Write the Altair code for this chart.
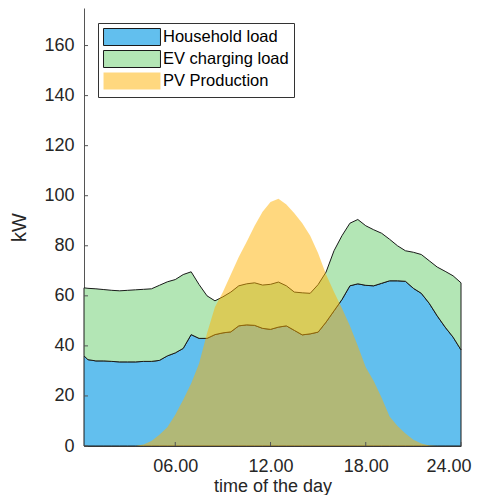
import altair as alt
import pandas as pd

hours = [0.25, 0.5, 1, 1.5, 2, 2.5, 3, 3.5, 4, 4.5, 5, 5.5, 6, 6.5, 7, 7.5, 8, 8.5,
         9, 9.5, 10, 10.5, 11, 11.5, 12, 12.5, 13, 13.5, 14, 14.5, 15, 15.5, 16, 16.5,
         17, 17.5, 18, 18.5, 19, 19.5, 20, 20.5, 21, 21.5, 22, 22.5, 23, 23.5, 24]

household = [36, 34.5, 34, 34, 33.8, 33.6, 33.6, 33.6, 33.8, 33.8, 34.2, 36, 37.2, 39,
             44.5, 43, 43, 44.5, 45.2, 45.6, 48, 48.4, 48.2, 47, 46.6, 47.5, 48, 46.2,
             44.4, 44.8, 45.5, 49.5, 54, 58.5, 64, 64.8, 64.2, 64, 65, 66, 66, 65.8,
             63, 61, 57, 52, 47.5, 43.5, 38.4]

ev_charging = [27.2, 28.5, 28.8, 28.5, 28.4, 28.4, 28.6, 28.8, 28.8, 29.0, 30.0, 29.6,
               29.3, 29.5, 25.1, 21.5, 17.0, 13.5, 14.4, 15.9, 16.0, 16.4, 17.0, 17.3,
               18.0, 18.0, 16.0, 15.3, 16.8, 16.2, 19.0, 20.0, 24.0, 25.5, 25.0, 25.7,
               23.8, 22.4, 20.0, 16.6, 14.0, 12.2, 14.4, 15.5, 17.0, 19.5, 22.3, 24.5, 26.8]

pv_production = [0, 0, 0, 0, 0, 0, 0, 0, 0.6, 2, 4.5, 7.5, 12.5, 18.5, 25, 33, 45, 55.5,
                 61.5, 68.5, 75.5, 81.6, 88, 93.6, 97.5, 98.8, 96.5, 93, 89, 84, 77,
                 68.5, 61.5, 55, 48, 40, 31.5, 26, 19.3, 11.8, 8, 5, 2.5, 1.0, 0.2, 0, 0, 0, 0]

series_names = ["Household load", "EV charging load", "PV Production"]
fill_colors = ["#62BFEE", "#B3E6B5", "rgba(255,178,0,0.5)"]
stroke_colors = ["#1a1a1a", "#1a1a1a", "transparent"]

y_ticks = list(range(0, 161, 20))
x_ticks = [6, 12, 18, 24]

rows = []
for h, hh, ev, pv in zip(hours, household, ev_charging, pv_production):
    rows.append({"hour": h, "series": series_names[0], "lo": 0, "hi": hh})
    rows.append({"hour": h, "series": series_names[1], "lo": hh, "hi": hh + ev})
    rows.append({"hour": h, "series": series_names[2], "lo": 0, "hi": pv})
df = pd.DataFrame(rows)

W, H = 377, 438
FONT = "Liberation Sans"

x_scale = alt.Scale(domain=[0.25, 24], nice=False, zero=False)
y_scale = alt.Scale(domain=[0, 175], nice=False)

legend = alt.Legend(
    title=None, orient="none", legendX=14, legendY=15,
    symbolType="M-3.35,-1L3.35,-1L3.35,1L-3.35,1Z", symbolSize=289,
    symbolStrokeWidth=1, symbolOffset=20, labelOffset=22,
    labelFontSize=16.5, labelFont=FONT, labelColor="#000000",
    fillColor="white", strokeColor="#333333", padding=5, rowPadding=0,
)

fill_enc = alt.Fill("series:N", scale=alt.Scale(domain=series_names, range=fill_colors), legend=legend)
stroke_enc = alt.Stroke("series:N", scale=alt.Scale(domain=series_names, range=stroke_colors), legend=legend)

x_axis = alt.Axis(
    values=x_ticks, labelExpr="(datum.value < 10 ? '0' : '') + datum.value + '.00'",
    title="time of the day", tickSize=0, grid=False, labelPadding=11, titlePadding=2,
    labelFontSize=18, titleFontSize=18, labelFlush=True, labelFlushOffset=10)
y_axis = alt.Axis(
    values=y_ticks, title="kW", tickSize=0, grid=False, labelPadding=10, titlePadding=14,
    labelFontSize=18, titleFontSize=20)

x_enc = alt.X("hour:Q", scale=x_scale, axis=x_axis)
y_enc = alt.Y("hi:Q", scale=y_scale, axis=y_axis)

def area_layer(name):
    return alt.Chart(df).transform_filter(alt.datum.series == name).mark_area(
        strokeWidth=1, interpolate="linear"
    ).encode(x=x_enc, y=y_enc, y2="lo:Q", fill=fill_enc, stroke=stroke_enc)

layers = [area_layer(n) for n in series_names]

ytick_df = pd.DataFrame({"v": y_ticks})
xtick_df = pd.DataFrame({"v": x_ticks})
ytick_rules = alt.Chart(ytick_df).mark_rule(color="#555555", strokeWidth=1).encode(
    y=alt.Y("v:Q", scale=y_scale, axis=y_axis), x=alt.value(0), x2=alt.value(4))
xtick_rules = alt.Chart(xtick_df).mark_rule(color="#555555", strokeWidth=1).encode(
    x=alt.X("v:Q", scale=x_scale, axis=x_axis), y=alt.value(H), y2=alt.value(H - 4))

chart = alt.layer(*layers, ytick_rules, xtick_rules).properties(
    width=W, height=H,
    autosize=alt.AutoSizeParams(type="none"),
    padding={"left": 76, "top": 0, "right": 13, "bottom": 49},
).configure_view(stroke=None).configure_axis(
    domainColor="#555555", domainWidth=1, labelColor="#262626", titleColor="#262626",
    labelFont=FONT, titleFont=FONT, titleFontWeight="normal",
)

chart.save("out.html", embed_options={"renderer": "svg", "actions": False})
